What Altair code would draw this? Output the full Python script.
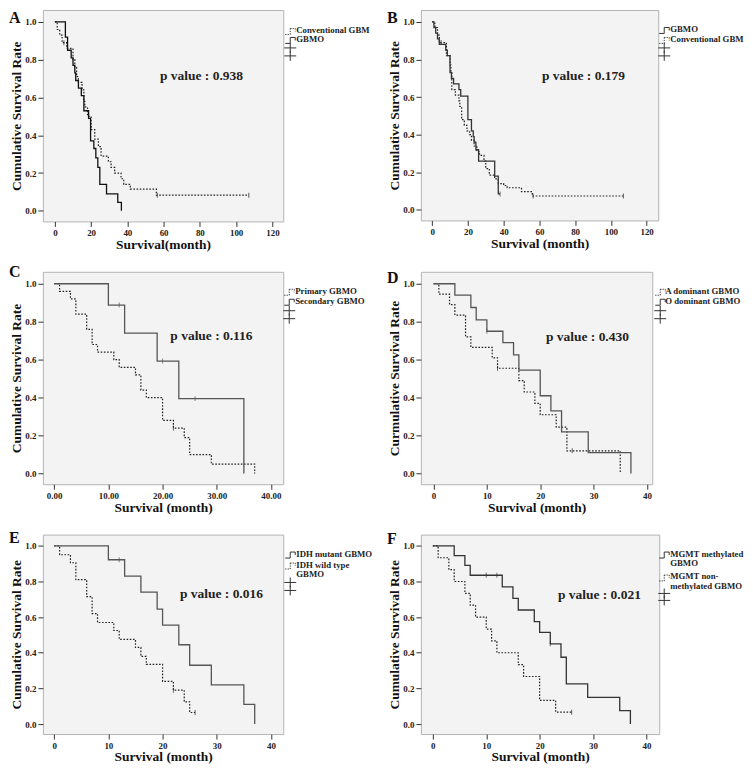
import altair as alt
import pandas as pd

FONT = "Liberation Serif"

# ---------------- data ----------------
A_conv_t = [0, 1.3, 2.7, 4, 6.5, 10, 11, 12, 13, 15, 16, 16.5, 18, 20, 22, 24, 25.5, 29.5, 31, 33, 36.5, 38, 41.6, 56, 107]
A_conv_s = [1.0, 0.96, 0.93, 0.89, 0.86, 0.80, 0.76, 0.71, 0.68, 0.64, 0.58, 0.55, 0.50, 0.43, 0.38, 0.34, 0.29, 0.26, 0.23, 0.20, 0.17, 0.14, 0.115, 0.083, 0.083]
A_conv_c = [5, 56.5, 107]
A_gbmo_t = [0, 5.8, 7, 9, 10, 11, 11.5, 13, 14.6, 16, 18.6, 19.7, 21.5, 22.6, 23.7, 24.8, 28.5, 34.7, 36.7]
A_gbmo_s = [1.0, 0.92, 0.85, 0.81, 0.77, 0.73, 0.69, 0.65, 0.61, 0.53, 0.49, 0.37, 0.33, 0.28, 0.23, 0.14, 0.09, 0.045, 0.0]
A_gbmo_c = []

B_gbmo_t = [0, 1, 2, 3, 4, 7.6, 8.5, 10, 10.8, 12, 15, 16, 20, 22, 23, 23.5, 24.5, 26, 35, 37, 38]
B_gbmo_s = [1.0, 0.97, 0.94, 0.91, 0.88, 0.85, 0.82, 0.73, 0.70, 0.67, 0.64, 0.605, 0.48, 0.42, 0.39, 0.36, 0.32, 0.26, 0.18, 0.085, 0.085]
B_gbmo_c = [38]
B_conv_t = [0, 1.5, 3, 4, 8, 10, 10.5, 11, 13, 15, 15.5, 16.5, 18, 19.5, 21, 22, 23.5, 25, 26.5, 29, 30, 32, 35, 37, 40, 42, 50, 56, 107]
B_conv_s = [1.0, 0.97, 0.93, 0.89, 0.82, 0.77, 0.73, 0.64, 0.61, 0.58, 0.55, 0.48, 0.45, 0.42, 0.40, 0.37, 0.34, 0.31, 0.29, 0.26, 0.22, 0.185, 0.165, 0.14, 0.13, 0.118, 0.097, 0.074, 0.074]
B_conv_c = [5, 56.5, 107]

C_pri_t = [0, 1, 3, 4, 6, 7, 8, 11, 12, 15, 16, 17, 20, 22, 24, 25, 29, 37]
C_pri_s = [1.0, 0.96, 0.92, 0.84, 0.76, 0.68, 0.64, 0.60, 0.56, 0.52, 0.44, 0.40, 0.28, 0.24, 0.19, 0.10, 0.05, 0.0]
C_pri_c = [22]
C_sec_t = [0, 10, 13, 19, 23, 35]
C_sec_s = [1.0, 0.888, 0.74, 0.593, 0.395, 0.0]
C_sec_c = [12, 20, 26]

D_a_t = [0, 1, 3, 4, 6, 7, 11, 12, 16, 17, 19, 20, 23, 25, 35]
D_a_s = [1.0, 0.945, 0.89, 0.835, 0.72, 0.665, 0.61, 0.555, 0.49, 0.43, 0.37, 0.31, 0.245, 0.12, 0.0]
D_a_c = [12, 26]
D_o_t = [0, 4, 7, 8, 10, 13, 15, 16, 20, 22, 24, 29, 37]
D_o_s = [1.0, 0.94, 0.875, 0.81, 0.75, 0.69, 0.625, 0.545, 0.41, 0.33, 0.22, 0.11, 0.0]
D_o_c = [10]

E_mut_t = [0, 10, 13, 16, 19, 20, 23, 25, 29, 35, 37]
E_mut_s = [1.0, 0.922, 0.83, 0.74, 0.645, 0.555, 0.445, 0.33, 0.22, 0.11, 0.0]
E_mut_c = [12]
E_wt_t = [0, 1, 3, 4, 6, 7, 8, 11, 12, 15, 16, 17, 20, 22, 24, 25, 26]
E_wt_s = [1.0, 0.95, 0.905, 0.81, 0.715, 0.62, 0.57, 0.525, 0.475, 0.43, 0.38, 0.335, 0.24, 0.19, 0.125, 0.065, 0.065]
E_wt_c = [22, 26]

F_meth_t = [0, 4, 6, 7, 13, 15, 16, 19, 20, 22, 24, 25, 29, 35, 37]
F_meth_s = [1.0, 0.945, 0.89, 0.835, 0.77, 0.705, 0.64, 0.575, 0.515, 0.45, 0.375, 0.225, 0.15, 0.075, 0.0]
F_meth_c = [10, 12, 22]
F_non_t = [0, 1, 3, 4, 6, 7, 8, 10, 11, 12, 16, 17, 20, 23, 26]
F_non_s = [1.0, 0.933, 0.866, 0.8, 0.733, 0.667, 0.6, 0.533, 0.467, 0.4, 0.333, 0.267, 0.133, 0.067, 0.067]
F_non_c = [26]

P_VALUES = ["0.938", "0.179", "0.116", "0.430", "0.016", "0.021"]
Y_TICKS = [0.0, 0.2, 0.4, 0.6, 0.8, 1.0]
X_TICKS_120 = [0, 20, 40, 60, 80, 100, 120]
X_TICKS_40 = [0, 10, 20, 30, 40]

ONE = pd.DataFrame({"k": [0]})
DOT = [1.6, 1.6]


def step_at(ts, ss, c):
    v = ss[0]
    for t, s in zip(ts, ss):
        if t <= c:
            v = s
    return v


def make_panel(p):
    xs = alt.X("t:Q", scale=alt.Scale(domain=p["xdom"], nice=False, zero=False),
               axis=alt.Axis(values=p["xticks"], format=p["xfmt"], title=p["xtitle"]))
    ys = alt.Y("s:Q", scale=alt.Scale(domain=[-0.056, 1.063], nice=False, zero=False),
               axis=alt.Axis(values=Y_TICKS, format=".1f", title=p["ytitle"]))
    layers = []
    for (t, s, c, dotted, color) in p["curves"]:
        df = pd.DataFrame({"t": t, "s": s})
        kw = dict(interpolate="step-after", color=color, strokeWidth=1.2 if dotted else 1.3)
        if dotted:
            kw["strokeDash"] = DOT
        layers.append(alt.Chart(df).mark_line(**kw).encode(x=xs, y=ys))
        if c:
            cdf = pd.DataFrame({"t": c, "s": [step_at(t, s, ci) for ci in c]})
            layers.append(alt.Chart(cdf).mark_tick(orient="vertical", size=5, thickness=1,
                                                   color=color).encode(x=xs, y=ys))
    w = p["w"]
    layers.append(alt.Chart(ONE).mark_text(font=FONT, fontSize=13.5, fontWeight="bold",
                                           color="#222", align="center", baseline="middle")
                  .encode(x=alt.value(p["ptx"]), y=alt.value(p["pty"]),
                          text=alt.value("p value : " + p["pval"])))
    layers.append(alt.Chart(ONE).mark_text(font=FONT, fontSize=16, fontWeight="bold",
                                           color="#111", align="left", baseline="top")
                  .encode(x=alt.value(-34), y=alt.value(p["ly"]), text=alt.value(p["letter"])))

    def seg(x1, y1, x2, y2, dotted=False):
        kw = dict(color="#333", strokeWidth=1)
        if dotted:
            kw["strokeDash"] = [1.2, 1.2]
        return alt.Chart(ONE).mark_rule(**kw).encode(
            x=alt.value(x1), x2=alt.value(x2), y=alt.value(y1), y2=alt.value(y2))

    tx = w + p["tdx"]
    sx = w + p["sdx"]
    for (lines, dotted, y0) in p["legend"]:
        for i, line in enumerate(lines):
            layers.append(alt.Chart(ONE).mark_text(font=FONT, fontSize=8.8, fontWeight="bold",
                                                   color="#222", align="left", baseline="middle")
                          .encode(x=alt.value(tx), y=alt.value(y0 + i * p["lh"]),
                                  text=alt.value(line)))
        yc = y0 + 1.5
        layers += [seg(sx, yc + 3, sx + 5, yc + 3, dotted),
                   seg(sx + 5, yc + 3, sx + 5, yc - 3, dotted),
                   seg(sx + 5, yc - 3, sx + 10, yc - 3, dotted),
                   seg(sx + 10, yc - 3, sx + 10, yc, dotted)]
    for cy in p["crosses"]:
        cx = sx + 5
        layers += [seg(cx - 6, cy, cx + 6, cy), seg(cx, cy - 5, cx, cy + 5)]

    return alt.layer(*layers).properties(width=p["w"], height=p["h"])


panels = [
    dict(letter="A", ly=0, w=241, h=212, xdom=[-6.6, 126.0], xticks=X_TICKS_120, xfmt="d",
         xtitle="Survival(month)", ytitle="Cumulative Survival Rate", pval=P_VALUES[0], ptx=159, pty=66,
         curves=[(A_conv_t, A_conv_s, A_conv_c, True, "#222"), (A_gbmo_t, A_gbmo_s, A_gbmo_c, False, "#111")],
         legend=[(["Conventional GBM"], True, 20), (["GBMO"], False, 29)], crosses=[38, 46],
         tdx=13, sdx=2, lh=9),
    dict(letter="B", ly=0, w=238, h=211, xdom=[-6.3, 126.5], xticks=X_TICKS_120, xfmt="d",
         xtitle="Survival (month)", ytitle="Cumulative Survival Rate", pval=P_VALUES[1], ptx=163, pty=66,
         curves=[(B_conv_t, B_conv_s, B_conv_c, True, "#222"), (B_gbmo_t, B_gbmo_s, B_gbmo_c, False, "#333")],
         legend=[(["GBMO"], False, 19), (["Conventional GBM"], True, 29)], crosses=[38, 46],
         tdx=12, sdx=1, lh=9),
    dict(letter="C", ly=-8, w=241, h=213, xdom=[-2.08, 42.27], xticks=X_TICKS_40, xfmt=".2f",
         xtitle="Survival (month)", ytitle="Cumulative Survival Rate", pval=P_VALUES[2], ptx=169, pty=64,
         curves=[(C_pri_t, C_pri_s, C_pri_c, True, "#222"), (C_sec_t, C_sec_s, C_sec_c, False, "#555")],
         legend=[(["Primary GBMO"], True, 19), (["Secondary GBMO"], False, 29)], crosses=[39, 47],
         tdx=12, sdx=1, lh=9),
    dict(letter="D", ly=-2, w=232, h=213, xdom=[-2.37, 41.0], xticks=X_TICKS_40, xfmt="d",
         xtitle="Survival (month)", ytitle="Curmulative Survival Rate", pval=P_VALUES[3], ptx=167, pty=65,
         curves=[(D_a_t, D_a_s, D_a_c, True, "#222"), (D_o_t, D_o_s, D_o_c, False, "#555")],
         legend=[(["A dominant GBMO"], True, 19), (["O dominant GBMO"], False, 29)], crosses=[39, 47],
         tdx=13, sdx=3, lh=9),
    dict(letter="E", ly=-5, w=241, h=200, xdom=[-2.08, 42.27], xticks=X_TICKS_40, xfmt="d",
         xtitle="Survival (month)", ytitle="Cumulative Survival Rate", pval=P_VALUES[4], ptx=179, pty=60,
         curves=[(E_wt_t, E_wt_s, E_wt_c, True, "#222"), (E_mut_t, E_mut_s, E_mut_c, False, "#555")],
         legend=[(["IDH mutant GBMO"], False, 19), (["IDH wild type", "GBMO"], True, 30)], crosses=[48, 56],
         tdx=13, sdx=2, lh=9.5),
    dict(letter="F", ly=-4, w=239, h=200, xdom=[-2.24, 42.4], xticks=X_TICKS_40, xfmt="d",
         xtitle="Survival (month)", ytitle="Cumulative Survival Rate", pval=P_VALUES[5], ptx=179, pty=61,
         curves=[(F_non_t, F_non_s, F_non_c, True, "#222"), (F_meth_t, F_meth_s, F_meth_c, False, "#333")],
         legend=[(["MGMT methylated", "GBMO"], False, 19), (["MGMT non-", "methylated GBMO"], True, 42)],
         crosses=[59, 66], tdx=11, sdx=0, lh=9.5),
]

ch = [make_panel(p) for p in panels]

chart = (
    alt.concat(*ch, columns=2, spacing={"row": 50.5, "column": 138}, bounds="flush")
    .resolve_scale(x="independent", y="independent")
    .properties(padding=0)
    .configure(background="white")
    .configure_view(stroke="#b4b4b4", fill="#f3f3f3", strokeWidth=1)
    .configure_axis(
        grid=False, domain=False, ticks=True, tickColor="#333", tickSize=5, tickWidth=1,
        labelFont=FONT, labelFontSize=9, labelFontWeight="bold", labelColor="#222", labelPadding=2,
        titleFont=FONT, titleFontSize=13.5, titleFontWeight="bold", titleColor="#111",
    )
    .configure_axisX(titlePadding=0)
    .configure_axisY(titlePadding=1)
)

chart.save("out.html", embed_options={"renderer": "svg", "actions": False})
